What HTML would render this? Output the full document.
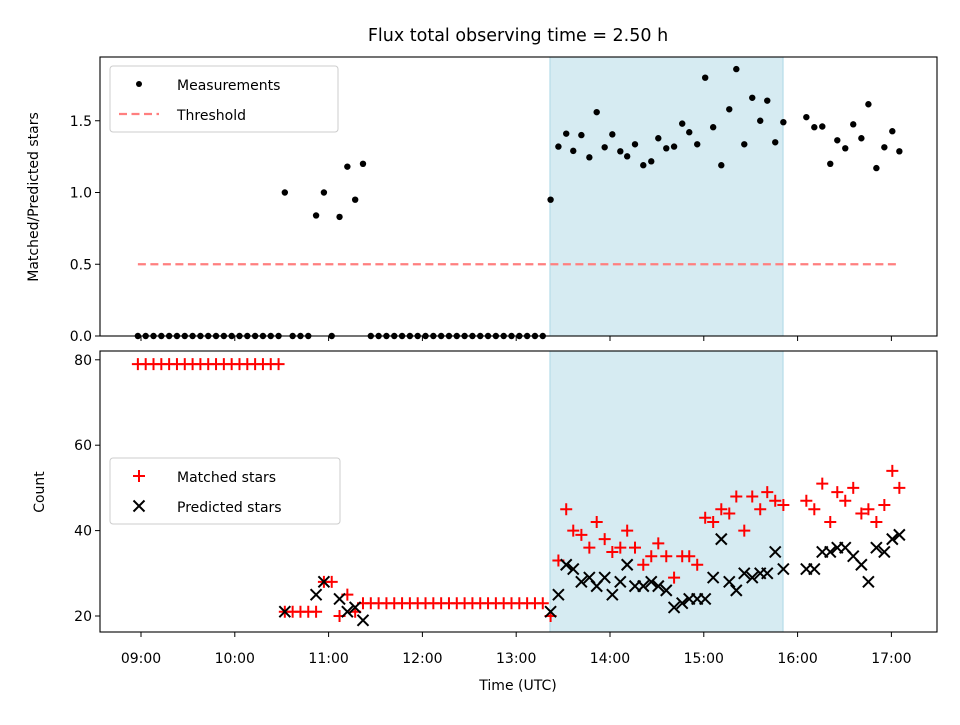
<!DOCTYPE html>
<html><head><meta charset="utf-8"><style>
body{margin:0;background:#fff}
svg text{font-family:"DejaVu Sans","Liberation Sans",sans-serif;fill:#000}
</style></head><body>
<svg id="c" width="960" height="720" viewBox="0 0 960 720"></svg>
<script>
// Data: time in minutes after 09:00 UTC
const timeMin = [-2,3,8,13,18,23,28,33,38,43,48,53,58,63,68,73,78,83,88,
 92,97,102,107,112,117,122,127,132,137,142,
 147,152,157,162,167,172,177,182,187,192,197,202,207,212,217,222,227,232,237,242,247,252,257,
 262,267,272,276.5,281.7,286.8,291.5,296.6,301.5,306.6,311,316,321.3,326.4,330.9,336,341,346.2,350.7,355.8,360.9,366,371.2,376.3,380.8,385.9,391,396.1,400.6,405.7,410.9,
 425.6,430.7,435.8,440.9,445.4,450.5,455.6,460.8,465.3,470.4,475.5,480.6,485.1];
const ratio = [0,0,0,0,0,0,0,0,0,0,0,0,0,0,0,0,0,0,0,
 1.0,0,0,0,0.84,1.0,0,0.83,1.18,0.95,1.2,
 0,0,0,0,0,0,0,0,0,0,0,0,0,0,0,0,0,0,0,0,0,0,0,
 0.95,1.32,1.41,1.29,1.40,1.245,1.56,1.315,1.405,1.287,1.252,1.336,1.19,1.217,1.378,1.308,1.32,1.48,1.42,1.336,1.80,1.455,1.19,1.58,1.86,1.336,1.66,1.50,1.64,1.35,1.49,
 1.525,1.455,1.46,1.20,1.364,1.308,1.475,1.378,1.615,1.17,1.315,1.427,1.287];
const matched = [79,79,79,79,79,79,79,79,79,79,79,79,79,79,79,79,79,79,79,
 21,21,21,21,21,28,28,20,25,21,23,
 23,23,23,23,23,23,23,23,23,23,23,23,23,23,23,23,23,23,23,23,23,23,23,
 20,33,45,40,39,36,42,38,35,36,40,36,32,34,37,34,29,34,34,32,43,42,45,44,48,40,48,45,49,47,46,
 47,45,51,42,49,47,50,44,45,42,46,54,50];
const predicted = [null,null,null,null,null,null,null,null,null,null,null,null,null,null,null,null,null,null,null,
 21,null,null,null,25,28,null,24,21,22,19,
 null,null,null,null,null,null,null,null,null,null,null,null,null,null,null,null,null,null,null,null,null,null,null,
 21,25,32,31,28,29,27,29,25,28,32,27,27,28,27,26,22,23,24,24,24,29,38,28,26,30,29,30,30,35,31,
 31,31,35,35,36,36,34,32,28,36,35,38,39];
const threshold = 0.5;
const thresholdSpan = [-2,485.1];
const shadeSpan = [261.6,410.7];
const xTickLabels = ["09:00","10:00","11:00","12:00","13:00","14:00","15:00","16:00","17:00"];
const xTickVals = [0,60,120,180,240,300,360,420,480];
const topYTicks = [0.0,0.5,1.0,1.5];
const botYTicks = [20,40,60,80];

const svg=document.getElementById('c');
const NS='http://www.w3.org/2000/svg';
function el(t,a,p){const e=document.createElementNS(NS,t);for(const k in a)e.setAttribute(k,a[k]);(p||svg).appendChild(e);return e;}
const X0=100,X1=937;
const xs=m=>141+m*1.5633;
const yTop=v=>336-v*143.5;
const yBot=v=>616-(v-20)*4.27;

function panel(name,top,bot){
  const g=el('g',{});
  
  
  const r=el('rect',{x:xs(shadeSpan[0]),y:top,width:xs(shadeSpan[1])-xs(shadeSpan[0]),height:bot-top,fill:'#add8e6','fill-opacity':0.5,stroke:'#add8e6','stroke-width':1},g);
  
  
  return g;
}
function frame(g,top,bot){
  const f=el('rect',{x:X0,y:top,width:X1-X0,height:bot-top,fill:'none',stroke:'#000','stroke-width':1.1},g);
  
  
}

// top panel
const gt=panel('ratio-panel',57,336);
const th=el('line',{x1:xs(thresholdSpan[0]),x2:xs(thresholdSpan[1]),y1:yTop(threshold),y2:yTop(threshold),stroke:'#ff7f7f','stroke-width':2.2,'stroke-dasharray':'8,4.5'},gt);


for(let i=0;i<timeMin.length;i++){
  const c=el('circle',{cx:xs(timeMin[i]),cy:yTop(ratio[i]),r:3.2,fill:'#000'},gt);
  
  
}
frame(gt,57,336);
topYTicks.forEach(v=>{
  const y=yTop(v);
  el('line',{x1:X0-5,x2:X0,y1:y,y2:y,stroke:'#000'},gt);
  const t=el('text',{x:X0-8,y:y+5,'font-size':14,'text-anchor':'end'},gt);t.textContent=v.toFixed(1);
  
  
});
xTickVals.forEach(v=>{el('line',{x1:xs(v),x2:xs(v),y1:336,y2:341,stroke:'#000'},gt);});

// bottom panel
const gb=panel('count-panel',351,632);
for(let i=0;i<timeMin.length;i++){
  const x=xs(timeMin[i]),y=yBot(matched[i]);
  const p=el('path',{d:`M${x-6},${y}H${x+6}M${x},${y-6}V${y+6}`,stroke:'#f00','stroke-width':2,fill:'none'},gb);
  
  
}
for(let i=0;i<timeMin.length;i++){
  if(predicted[i]===null)continue;
  const x=xs(timeMin[i]),y=yBot(predicted[i]);
  const p=el('path',{d:`M${x-5.5},${y-5.5}L${x+5.5},${y+5.5}M${x-5.5},${y+5.5}L${x+5.5},${y-5.5}`,stroke:'#000','stroke-width':2,fill:'none'},gb);
  
  
}
frame(gb,351,632);
botYTicks.forEach(v=>{
  const y=yBot(v);
  el('line',{x1:X0-5,x2:X0,y1:y,y2:y,stroke:'#000'},gb);
  const t=el('text',{x:X0-8,y:y+5,'font-size':14,'text-anchor':'end'},gb);t.textContent=v;
  
  
});
xTickVals.forEach((v,i)=>{
  el('line',{x1:xs(v),x2:xs(v),y1:632,y2:637,stroke:'#000'},gb);
  const t=el('text',{x:xs(v),y:663,'font-size':14,'text-anchor':'middle'},gb);t.textContent=xTickLabels[i];
  
  
});
</script>
<svg width="960" height="720" style="position:absolute;left:0;top:0">
<text x="518" y="41" font-size="17.5" text-anchor="middle">Flux total observing time = 2.50 h</text>
<text x="518" y="690" font-size="14" text-anchor="middle">Time (UTC)</text>
<text transform="translate(38,197) rotate(-90)" font-size="14" text-anchor="middle">Matched/Predicted stars</text>
<text transform="translate(44,492) rotate(-90)" font-size="14" text-anchor="middle">Count</text>
<g>
<rect x="110" y="66" width="228" height="66" rx="3" fill="#fff" fill-opacity="0.8" stroke="#ccc"/>
<circle cx="139" cy="84" r="3" fill="#000"/>
<text x="177" y="90" font-size="14">Measurements</text>
<line x1="119" x2="159" y1="114" y2="114" stroke="#ff7f7f" stroke-width="2.2" stroke-dasharray="8,4.5"/>
<text x="177" y="120" font-size="14">Threshold</text>
</g>
<g>
<rect x="110" y="458" width="230" height="66" rx="3" fill="#fff" fill-opacity="0.8" stroke="#ccc"/>
<path d="M133,476H145M139,470V482" stroke="#f00" stroke-width="2"/>
<text x="177" y="482" font-size="14">Matched stars</text>
<path d="M133.5,500.5L144.5,511.5M133.5,511.5L144.5,500.5" stroke="#000" stroke-width="2"/>
<text x="177" y="512" font-size="14">Predicted stars</text>
</g>
</svg>
</body></html>
